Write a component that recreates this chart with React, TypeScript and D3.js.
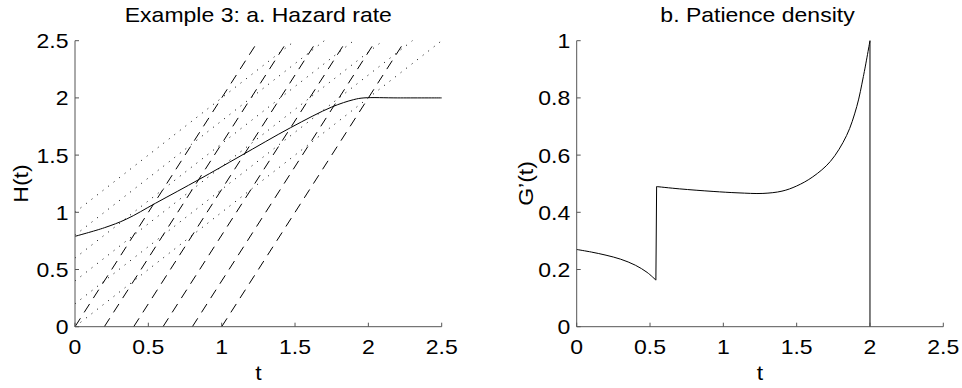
import React from "react";
import * as d3 from "d3";

// panel a: hazard rate H(t)
const hazardT = [0, 0.2, 0.35, 0.55, 0.85, 1.125, 1.47, 1.75, 1.9, 1.97, 2.2, 2.5];
const hazardH = [0.79, 0.865, 0.94, 1.08, 1.29, 1.49, 1.74, 1.92, 1.985, 2.0, 2.0, 2.0];

// dotted lines: from (0, start) up to (end, 2.5)
const dottedStartH = [0, 0.2, 0.4, 0.6, 0.8, 1.0];
const dottedEndT = [2.5, 2.3, 2.1, 1.9, 1.7, 1.5];
// dashed lines: from (start, 0) up to (end, 2.5)
const dashedStartT = [0, 0.2, 0.4, 0.6, 0.8, 1.0];
const dashedEndT = [1.25, 1.45, 1.65, 1.85, 2.05, 2.25];

// panel b: patience density G'(t), two pieces
const densT1 = [0, 0.1, 0.2, 0.3, 0.4, 0.48, 0.54];
const densV1 = [0.27, 0.261, 0.25, 0.236, 0.215, 0.19, 0.163];
const densT2 = [0.545, 0.7, 0.93, 1.1, 1.27, 1.4, 1.5, 1.61, 1.73, 1.84, 1.91, 1.955, 2.0];
const densV2 = [0.49, 0.482, 0.473, 0.468, 0.466, 0.474, 0.492, 0.524, 0.578, 0.668, 0.77, 0.875, 1.0];

const tTicks = ["0", "0.5", "1", "1.5", "2", "2.5"];
const hTicks = ["0", "0.5", "1", "1.5", "2", "2.5"];
const gTicks = ["0", "0.2", "0.4", "0.6", "0.8", "1"];

const FONT = "'Liberation Sans', Arial, Helvetica, sans-serif";
const FS = 20;
const SX = 1.15;
const AXIS = "#555";
const TOP = 40.7;
const BOTTOM = 326.7;
const TICK = 4;

function Label({ x, y, anchor = "middle", rotate = 0, children }: any) {
  return (
    <g transform={`translate(${x},${y}) rotate(${rotate}) scale(${SX},1)`}>
      <text textAnchor={anchor} fontFamily={FONT} fontSize={FS} fill="#000">
        {children}
      </text>
    </g>
  );
}

function Axes({ x, y, yTicks, title, yLabel, titleX }: any) {
  const [x0, x1] = x.range();
  return (
    <g>
      <line x1={x0} x2={x1} y1={BOTTOM} y2={BOTTOM} stroke={AXIS} />
      <line x1={x0} x2={x0} y1={TOP} y2={BOTTOM} stroke={AXIS} />
      {tTicks.map((t) => (
        <g key={"x" + t}>
          <line x1={x(+t)} x2={x(+t)} y1={BOTTOM} y2={BOTTOM - TICK} stroke={AXIS} />
          <Label x={x(+t)} y={BOTTOM + 27}>{t}</Label>
        </g>
      ))}
      {yTicks.map((v: string) => (
        <g key={"y" + v}>
          <line x1={x0} x2={x0 + TICK} y1={y(+v)} y2={y(+v)} stroke={AXIS} />
          <Label x={x0 - 6.5} y={y(+v) + 7.5} anchor="end">{v}</Label>
        </g>
      ))}
      <Label x={(x0 + x1) / 2} y={380}>t</Label>
      <Label x={titleX ?? (x0 + x1) / 2} y={22}>{title}</Label>
      {yLabel}
    </g>
  );
}

export default function App() {
  const xa = d3.scaleLinear().domain([0, 2.5]).range([75, 441.7]);
  const ya = d3.scaleLinear().domain([0, 2.5]).range([BOTTOM, TOP]);
  const xb = d3.scaleLinear().domain([0, 2.5]).range([576.7, 943.3]);
  const yb = d3.scaleLinear().domain([0, 1]).range([BOTTOM, TOP]);

  const lineA = d3
    .line<number>()
    .x((_, i) => xa(hazardT[i]))
    .y((d) => ya(d))
    .curve(d3.curveCatmullRom.alpha(0.5));

  const seg = (ts: number[]) =>
    d3
      .line<number>()
      .x((_, i) => xb(ts[i]))
      .y((d) => yb(d))
      .curve(d3.curveCatmullRom.alpha(0.5));

  const n1 = densT1.length - 1;
  const n2 = densT2.length - 1;

  return (
    <svg
      width={962}
      height={388}
      style={{ position: "absolute", left: 0, top: 0, background: "#fff" }}
    >
      {/* panel a */}
      <g fill="none" stroke="#000" strokeWidth={1}>
        {dottedStartH.map((h, i) => (
          <line
            key={"dot" + i}
            x1={xa(0)}
            y1={ya(h)}
            x2={xa(dottedEndT[i])}
            y2={ya(2.5)}
            strokeDasharray="1,6"
          />
        ))}
        {dashedStartT.map((t, i) => (
          <line
            key={"dash" + i}
            x1={xa(t)}
            y1={ya(0)}
            x2={xa(dashedEndT[i])}
            y2={ya(2.5)}
            strokeDasharray="10,7"
          />
        ))}
        <path d={lineA(hazardH) ?? ""} />
      </g>
      <Axes
        x={xa}
        y={ya}
        yTicks={hTicks}
        title="Example 3: a. Hazard rate"
        yLabel={<Label x={27.5} y={183.5} rotate={-90}>H(t)</Label>}
      />

      {/* panel b */}
      <g fill="none" stroke="#000" strokeWidth={1}>
        <path d={seg(densT1)(densV1) ?? ""} />
        <line x1={xb(densT1[n1])} y1={yb(densV1[n1])} x2={xb(densT2[0])} y2={yb(densV2[0])} />
        <path d={seg(densT2)(densV2) ?? ""} />
        <line x1={xb(densT2[n2])} y1={yb(densV2[n2])} x2={xb(densT2[n2])} y2={yb(0)} />
      </g>
      <Axes
        x={xb}
        y={yb}
        yTicks={gTicks}
        title="b. Patience density"
        titleX={757.5}
        yLabel={<Label x={532.5} y={183.5} rotate={-90}>G’(t)</Label>}
      />
    </svg>
  );
}
